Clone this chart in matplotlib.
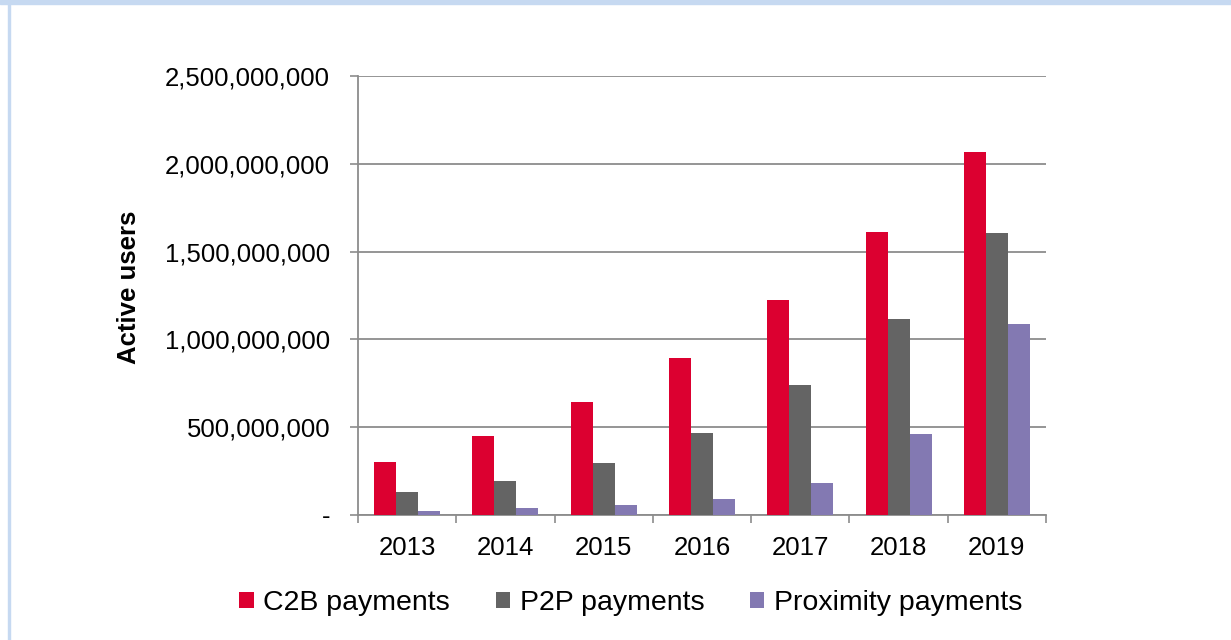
import matplotlib
matplotlib.use("Agg")
import matplotlib.pyplot as plt
import numpy as np
from matplotlib.ticker import FuncFormatter, FixedLocator
from matplotlib.patches import Rectangle

years = ["2013", "2014", "2015", "2016", "2017", "2018", "2019"]
c2b = [304e6, 452e6, 642e6, 895e6, 1222e6, 1609e6, 2065e6]
p2p = [129e6, 192e6, 294e6, 468e6, 739e6, 1117e6, 1604e6]
proximity = [25e6, 40e6, 57e6, 89e6, 184e6, 462e6, 1089e6]
series_names = ["C2B payments", "P2P payments", "Proximity payments"]
colors = ["#dc0030", "#646464", "#8379b2"]
y_ticks = [0, 500e6, 1000e6, 1500e6, 2000e6, 2500e6]

W, H = 1231, 640
fig = plt.figure(figsize=(W / 100, H / 100), dpi=100)
plt.rcParams['font.family'] = ['Liberation Sans', 'DejaVu Sans']
fs = 18.5

# frame decorations
fig.patches.append(Rectangle((0, 1 - 4 / H), 1, 4 / H, transform=fig.transFigure,
                             color="#c6d9f1", zorder=0))
fig.patches.append(Rectangle((8 / W, 0), 2 / W, 1, transform=fig.transFigure,
                             color="#c6d9f1", zorder=0))

ax = fig.add_axes([358 / W, 1 - 515 / H, (1046 - 358) / W, (515 - 76) / H])
x = np.arange(len(years))
bw = 0.224
for i, (vals, name, col) in enumerate(zip([c2b, p2p, proximity], series_names, colors)):
    ax.bar(x + (i - 1) * bw, vals, width=bw, color=col, label=name, zorder=3)

ax.set_xlim(-0.5, len(years) - 0.5)
ax.set_ylim(0, 2500e6)
ax.set_yticks(y_ticks)
ax.yaxis.set_major_formatter(FuncFormatter(lambda v, p: "-" if v == 0 else f"{int(v):,}"))
ax.grid(axis="y", color="#8c8c8c", linewidth=1.3, zorder=0)
ax.set_axisbelow(True)

ax.set_xticks(x)
ax.set_xticklabels(years)
ax.xaxis.set_minor_locator(FixedLocator(np.arange(-0.5, len(years), 1.0)))
ax.tick_params(axis="x", which="major", length=0, pad=15, labelsize=fs)
ax.tick_params(axis="x", which="minor", length=6, width=1.2, color="#8c8c8c", direction="out")
ax.tick_params(axis="y", length=6, width=1.2, color="#8c8c8c", pad=14, labelsize=fs)

for s in ["top", "right"]:
    ax.spines[s].set_visible(False)
for s in ["left", "bottom"]:
    ax.spines[s].set_color("#8c8c8c")
    ax.spines[s].set_linewidth(1.3)

ax.set_ylabel("Active users", fontsize=fs, fontweight="bold")
ax.yaxis.set_label_coords(-0.316, 0.519)

fig.legend(loc="center", bbox_to_anchor=(631 / W, 1 - 603 / H), ncol=3, frameon=False,
           fontsize=20.5, handlelength=0.5, handleheight=0.5, handletextpad=0.35,
           columnspacing=1.6)

fig.savefig("out.png", dpi=100, facecolor="white")
